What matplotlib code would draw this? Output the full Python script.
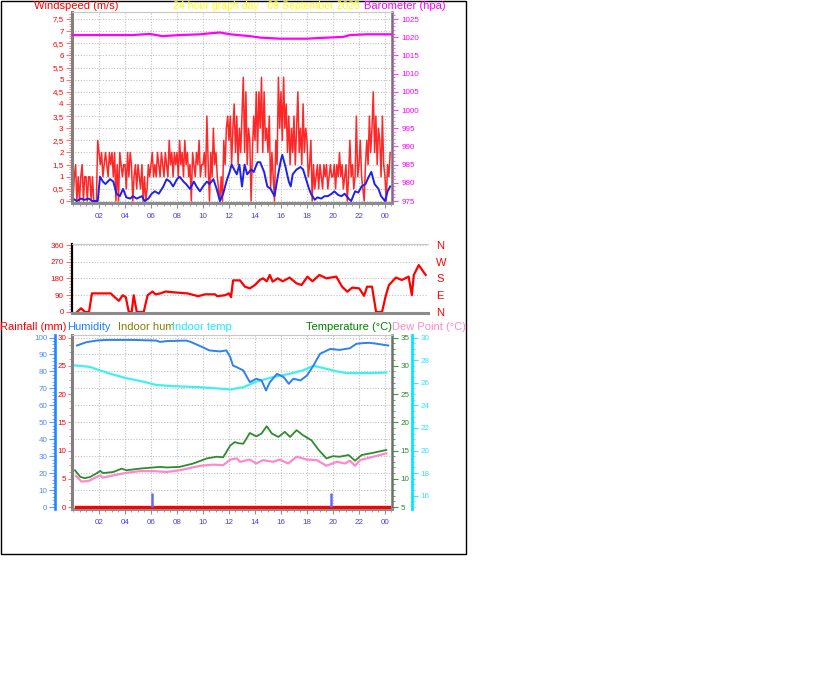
import matplotlib
matplotlib.use('Agg')
import matplotlib.pyplot as plt
from matplotlib.patches import Rectangle
from matplotlib.ticker import MultipleLocator, FuncFormatter
import numpy as np

plt.rcParams['font.family'] = ['Liberation Sans', 'DejaVu Sans']

W, H = 816, 683

###########################################
# Data
###########################################
# wind gusts (m/s), one reading every 6 minutes from 00:00
gust_step = 0.1
gust = [
    0, 1, 1.5, 0, 1, 0, 1, 1.5, 0, 1,
    1, 0, 1, 1, 0, 1, 0, 0, 0, 2.5,
    2, 1.5, 2, 1, 1.5, 2, 1.5, 1, 2, 1.5,
    2, 1, 2, 0, 1.5, 0, 2, 1.5, 1, 1.5,
    1.5, 0.5, 2, 1, 2, 1.5, 0, 1, 1.5, 0.5,
    1.5, 1, 0.5, 1.5, 0, 1, 0, 0.5, 1.5, 1,
    1.5, 2, 1, 1.5, 1, 2, 1.5, 1, 2, 1.5,
    1, 2, 1.5, 1, 2.5, 1.5, 2, 1, 2, 1.5,
    2, 1, 2.5, 1.5, 2, 1, 2.5, 1.5, 2, 1,
    1.5, 0, 2, 1.5, 1, 2, 1.5, 2.5, 1, 1.5,
    1.5, 2, 1, 3.5, 1.5, 0, 2, 1, 3, 1.5,
    2, 1, 0.5, 0, 1, 0, 2.5, 1.5, 3, 3.5,
    2.5, 3.5, 1.5, 3, 4, 2, 3.5, 1.5, 3, 2,
    3.5, 5.1, 2, 4.5, 1.5, 3, 2.5, 0, 2, 3.5,
    2.5, 4.5, 2, 4.5, 3, 5.1, 2, 4.5, 2.5, 3,
    2, 3.5, 0.5, 2, 1, 0, 2.5, 1.5, 5.1, 3,
    4.5, 2.5, 5.1, 3, 4, 2, 3.5, 1.5, 3, 2,
    3.5, 1.5, 3, 4.5, 2, 3, 1.5, 4, 2, 3,
    2.5, 1, 1.5, 2.5, 0, 1.5, 0.5, 1, 1.5, 0.5,
    1.5, 1, 0.5, 1.5, 1, 1.5, 0.5, 1, 1.5, 1,
    1, 1.5, 0.5, 1.5, 1, 2, 1, 1.5, 0.5, 1,
    1.5, 0, 1, 2.5, 1, 1.5, 0.5, 1, 3.5, 1,
    1.5, 2.5, 1, 0.5, 0, 1.5, 2.5, 1.5, 3.5, 2,
    3, 4.5, 2, 3.5, 1.5, 3, 2.5, 1, 3.5, 1.5,
    1, 0, 1.5, 1, 2,
]
gust_hours = np.arange(len(gust)) * gust_step

# average wind speed (m/s)
avg_hours = [0.0, 0.3, 0.6, 0.9, 1.2, 1.5, 1.9, 2.08, 2.3, 2.5, 2.85, 3.1, 3.35, 3.6, 3.85,
             4.1, 4.4, 4.6, 4.9, 5.3, 5.5, 5.8, 6.05, 6.3, 6.6, 6.95, 7.2, 7.46, 7.7,
             8.0, 8.2, 8.5, 8.7, 9.0, 9.3, 9.5, 9.77, 10.0, 10.3, 10.5, 10.8, 11.05, 11.3, 11.55, 11.8,
             12.05, 12.2, 12.4, 12.6, 12.8, 13.0, 13.2, 13.4, 13.7, 13.9, 14.2, 14.4, 14.7, 14.95,
             15.2, 15.5, 15.75, 16.0, 16.1, 16.35, 16.6, 16.75, 16.9, 17.2, 17.5, 17.7,
             18.1, 18.3, 18.6, 18.8, 19.1, 19.35, 19.6, 19.9, 20.1, 20.4, 20.65, 20.9, 21.2, 21.4,
             21.7, 21.95, 22.2, 22.5, 22.75, 22.95, 23.2, 23.5, 23.7, 24.0, 24.2, 24.4]
avg_speed = [0.1, 0.0, 0.1, 0.05, 0.1, 0.0, 0.0, 1.0, 0.8, 0.7, 0.9, 0.8, 0.3, 0.2, 0.5,
             0.15, 0.1, 0.2, 0.1, 0.2, 0.0, 0.1, 0.3, 0.4, 0.3, 0.6, 0.9, 0.8, 0.6,
             0.9, 1.0, 0.8, 0.7, 0.5, 0.8, 0.6, 0.4, 0.6, 0.8, 0.7, 0.9, 0.5, 0.0, 0.3, 0.8,
             1.2, 1.5, 1.3, 1.1, 1.5, 0.6, 1.5, 1.1, 1.3, 1.2, 1.6, 1.6, 1.2, 0.6,
             0.5, 0.2, 1.0, 1.7, 1.9, 1.4, 0.8, 0.6, 1.1, 1.3, 1.4, 1.3,
             0.6, 0.3, 0.05, 0.15, 0.1, 0.2, 0.2, 0.3, 0.4, 0.25, 0.2, 0.3, 0.1, 0.0,
             0.4, 0.35, 0.6, 0.7, 1.0, 1.2, 0.7, 0.5, 0.2, 0.0, 0.4, 0.6]

# barometer (hpa)
baro_hours = [0.0, 2.1, 4.6, 5.9, 6.9, 8.2, 9.8, 10.3, 11.3, 12.1, 13.6, 14.4, 15.9, 18.0,
              19.0, 20.8, 21.3, 22.6, 24.45]
baro_hpa = [1020.6, 1020.6, 1020.6, 1020.9, 1020.3, 1020.6, 1020.8, 1021.0, 1021.3, 1020.8,
            1020.3, 1019.9, 1019.6, 1019.6, 1019.8, 1020.1, 1020.6, 1020.8, 1020.8]

# wind direction (degrees)
dir_hours = [0.27, 0.55, 0.82, 1.1, 1.3, 2.6, 2.8, 3.16, 3.43, 3.64, 3.85, 4.05, 4.19, 4.4, 4.88,
             5.15, 5.49, 5.7, 6.04, 6.39, 7.07, 7.9, 8.65, 9.13, 9.82, 9.96, 10.5, 10.78, 10.92,
             11.06, 11.54, 11.88, 12.22, 12.57, 12.91, 13.12, 13.39, 13.6, 13.8, 14.15, 14.49,
             14.97, 15.45, 15.8, 16.2, 16.55, 17.03, 17.51, 18.2, 18.6, 18.96, 19.3, 19.78,
             20.12, 20.33, 20.67, 20.95, 21.36, 21.63, 21.84, 22.32, 22.73, 23.2, 23.42, 23.56,
             23.9, 24.38]
dir_deg = [0, 20, 0, 0, 100, 100, 85, 60, 90, 80, 0, 0, 90, 0, 0,
           90, 110, 95, 100, 110, 105, 100, 85, 95, 95, 85, 90, 100, 80,
           170, 170, 136, 127, 145, 172, 181, 165, 199, 163, 181, 165,
           185, 154, 145, 190, 165, 199, 181, 190, 136, 109, 131, 127,
           87, 136, 136, 0, 0, 91, 145, 185, 172, 190, 91, 199,
           252, 199]

# outdoor humidity (%)
hum_hours = [0.3, 1.05, 1.8, 2.6, 4.6, 6.4, 6.7, 7.2, 8.7, 9.1, 9.8, 10.5, 11.3, 11.8, 12.1,
             12.3, 12.6, 13.1, 13.6, 14.1, 14.5, 14.85, 15.15, 15.7, 16.2, 16.6, 16.95, 17.5,
             18.0, 18.5, 19.0, 19.8, 20.5, 21.3, 21.8, 22.3, 22.8, 23.4, 23.9, 24.25]
hum_pct = [95.3, 97.3, 98.2, 98.6, 98.6, 98.2, 97.4, 97.9, 98.2, 97.3, 94.9, 92.4, 91.8, 92.4, 88.4,
           83.5, 82.5, 80.6, 73.7, 75.7, 74.7, 68.8, 73.7, 78.6, 76.7, 72.7, 75.7, 74.7,
           77.6, 83.5, 90.4, 93.3, 92.7, 93.7, 96.3, 96.7, 96.9, 96.3, 95.7, 95.3]

# indoor temperature (C)
itemp_hours = [0.15, 1.3, 1.8, 2.85, 4.1, 5.4, 6.4, 7.7, 9.8, 11.05, 12.1, 12.8, 13.1, 14.1,
               15.4, 16.7, 17.7, 18.5, 19.25, 20.3, 21.05, 22.8, 24.1]
itemp_c = [27.53, 27.4, 27.2, 26.8, 26.4, 26.1, 25.8, 25.7, 25.6, 25.5, 25.4, 25.55, 25.6, 26.1,
           26.5, 26.8, 27.1, 27.5, 27.3, 27.0, 26.85, 26.85, 26.9]

# outdoor temperature (C)
temp_hours = [0.15, 0.55, 0.9, 1.3, 1.7, 2.1, 2.3, 3.1, 3.75, 4.1, 5.15, 6.7, 7.2, 8.2, 9.25,
              10.3, 11.05, 11.55, 12.1, 12.45, 12.7, 13.1, 13.6, 14.1, 14.5, 14.9, 15.3, 15.8,
              16.3, 16.7, 17.2, 17.7, 18.35, 18.9, 19.5, 20.0, 20.5, 21.2, 21.7, 22.2, 23.1, 24.1]
temp_c = [11.5, 10.35, 10.1, 10.3, 10.8, 11.4, 11.0, 11.2, 11.8, 11.5, 11.8, 12.1, 12.0, 12.1, 12.7,
          13.6, 13.9, 13.8, 15.9, 16.5, 16.3, 16.2, 18.1, 17.5, 18.0, 19.3, 18.0, 17.4,
          18.3, 17.4, 18.6, 17.7, 16.8, 15.1, 13.6, 14.0, 13.9, 14.2, 13.2, 14.2, 14.6, 15.1]

# dew point (C)
dew_hours = [0.23, 0.65, 1.2, 1.7, 2.1, 2.3, 3.1, 4.1, 5.15, 6.2, 7.2, 8.2, 9.8, 10.8, 11.55,
             12.1, 12.6, 12.85, 13.6, 14.1, 14.6, 15.4, 15.9, 16.55, 17.2, 17.98, 18.75, 19.5,
             20.3, 20.92, 21.3, 21.7, 22.08, 23.1, 24.1]
dew_c = [10.5, 9.5, 9.6, 10.2, 10.6, 10.2, 10.6, 11.05, 11.35, 11.35, 11.2, 11.5, 12.3, 12.5, 12.4,
         13.4, 13.6, 13.0, 13.4, 12.7, 13.3, 13.0, 13.4, 12.7, 13.9, 13.4, 13.3, 12.3,
         13.0, 12.7, 13.2, 12.3, 13.3, 13.9, 14.5]

# rainfall (mm)
rain_hours = [0.2, 24.3]
rain_mm = [0, 0]
rain_mark_hours = [6.08, 19.85]
rain_mark_mm = [2.5, 2.5]

hour_ticks = list(range(2, 25, 2))
hour_labels = ['%02d' % (h % 24) for h in hour_ticks]

###########################################
# Figure / helpers
###########################################
fig = plt.figure(figsize=(W / 100, H / 100), dpi=100)
fig.patch.set_facecolor('white')
fig.add_artist(Rectangle((0.5 / W, 1 - 554 / H), 465 / W, 553.5 / H, transform=fig.transFigure,
                         fill=False, ec='black', lw=1))


def px_axes(left, top, right, bottom):
    return fig.add_axes([left / W, 1 - bottom / H, (right - left) / W, (bottom - top) / H])


def comma(v, pos):
    return ('%g' % v).replace('.', ',')


XLIM = (-0.077, 24.54)
GRID = dict(color='#c0c0c0', lw=0.8, ls=(0, (1, 1.5)))
TS = 5.8


def frame(ax, left_c='#808080', left_w=2.2, right_c='#707070', right_w=1.8, right=True):
    ax.spines['top'].set_color('#c8c8c8')
    ax.spines['top'].set_linewidth(0.8)
    ax.spines['bottom'].set_color('#8c8c8c')
    ax.spines['bottom'].set_linewidth(2.2)
    ax.spines['left'].set_color(left_c)
    ax.spines['left'].set_linewidth(left_w)
    ax.spines['right'].set_visible(right)
    ax.spines['right'].set_color(right_c)
    ax.spines['right'].set_linewidth(right_w)


def hours_axis(ax, labels=True):
    ax.set_xlim(*XLIM)
    ax.set_xticks(hour_ticks)
    ax.xaxis.set_minor_locator(MultipleLocator(0.5))
    if labels:
        ax.set_xticklabels(hour_labels, color='#4040ff', fontsize=TS)
    else:
        ax.set_xticklabels([])
    ax.tick_params(axis='x', which='both', color='#909090', direction='out', pad=4)
    ax.tick_params(axis='x', which='major', length=3.5)
    ax.tick_params(axis='x', which='minor', length=2)


###########################################
# Panel 1: wind speed + barometer
###########################################
ax1 = px_axes(72, 12, 392, 203)
frame(ax1)
hours_axis(ax1)
ax1.set_ylim(-0.082, 7.79)
ax1.yaxis.set_major_locator(MultipleLocator(0.5))
ax1.yaxis.set_minor_locator(MultipleLocator(0.1))
ax1.yaxis.set_major_formatter(FuncFormatter(comma))
ax1.tick_params(axis='y', which='both', colors='#ff7070', labelcolor='#ff0000', labelsize=TS, pad=2)
ax1.tick_params(axis='y', which='major', length=4)
ax1.tick_params(axis='y', which='minor', length=2.5)
ax1.grid(True, which='major', **GRID)
ax1.set_axisbelow(True)
ax1.plot(gust_hours, gust, color='#ff1010', lw=1.1, alpha=0.9)
ax1.plot(avg_hours, avg_speed, color='#2020ee', lw=1.4)

ax1b = ax1.twinx()
ax1b.set_ylim(975 - 0.082 * 50 / 7.5, 975 + 7.79 * 50 / 7.5)
for s in ['top', 'bottom', 'left', 'right']:
    ax1b.spines[s].set_visible(False)
ax1b.yaxis.set_major_locator(MultipleLocator(5))
ax1b.yaxis.set_minor_locator(MultipleLocator(1))
ax1b.tick_params(axis='y', which='both', colors='#ff40ff', labelcolor='#ff00ff', labelsize=TS, pad=3)
ax1b.tick_params(axis='y', which='major', length=4)
ax1b.tick_params(axis='y', which='minor', length=2)
ax1b.plot(baro_hours, baro_hpa, color='#ff00ff', lw=1.6)

###########################################
# Panel 2: wind direction
###########################################
ax2 = px_axes(72, 244, 428, 313)
frame(ax2, left_c='black', left_w=1.6, right=False)
ax2.set_xlim(*XLIM)
ax2.set_xticks([])
ax2.set_ylim(-5.4, 365.4)
ax2.set_yticks([0, 90, 180, 270, 360])
ax2.yaxis.set_minor_locator(MultipleLocator(15))
ax2.tick_params(axis='y', which='both', colors='#ff7070', labelcolor='#ff0000', labelsize=TS, pad=2)
ax2.tick_params(axis='y', which='major', length=4)
ax2.tick_params(axis='y', which='minor', length=2.5)
ax2.grid(True, axis='y', **GRID)
ax2.set_axisbelow(True)
ax2.plot(dir_hours, dir_deg, color='#ff0000', lw=1.6)

ax2r = ax2.twinx()
ax2r.set_ylim(ax2.get_ylim())
for s in ['top', 'bottom', 'left', 'right']:
    ax2r.spines[s].set_visible(False)
ax2r.set_yticks([0, 90, 180, 270, 360])
ax2r.set_yticklabels(['N', 'E', 'S', 'W', 'N'])
ax2r.tick_params(axis='y', length=0, labelcolor='#ff0000', labelsize=8, pad=6)

###########################################
# Panel 3: rain, humidity, temperatures
###########################################
LO, HI = -1.18, 101.5


def lims(v0, v1):
    return (v0 + (v1 - v0) * LO / 100, v0 + (v1 - v0) * HI / 100)


ax3 = px_axes(72, 335, 392, 509)
frame(ax3)
hours_axis(ax3)
ax3.set_ylim(*lims(0, 30))
ax3.yaxis.set_major_locator(MultipleLocator(5))
ax3.yaxis.set_minor_locator(MultipleLocator(1.25))
ax3.tick_params(axis='y', which='both', colors='#ff7070', labelcolor='#ff0000', labelsize=TS, pad=1)
ax3.tick_params(axis='y', which='major', length=3)
ax3.tick_params(axis='y', which='minor', length=2)
for v in np.arange(3, 31, 3):
    ax3.axhline(v, zorder=0, **GRID)
for h in hour_ticks:
    ax3.axvline(h, zorder=0, **GRID)
ax3.plot(rain_hours, rain_mm, color='#ff0000', lw=2.4, zorder=3)
ax3.vlines(rain_mark_hours, 0, rain_mark_mm, color='#6868ff', lw=1.8, zorder=3)

# indoor temperature axis (cyan, far right)
ax3c = ax3.twinx()
ax3c.set_ylim(*lims(15, 30))
for s in ['top', 'bottom', 'left']:
    ax3c.spines[s].set_visible(False)
ax3c.spines['right'].set_position(('axes', 1 + 20 / 320))
ax3c.spines['right'].set_color('#00e8ff')
ax3c.spines['right'].set_linewidth(2)
ax3c.yaxis.set_major_locator(MultipleLocator(2))
ax3c.yaxis.set_minor_locator(MultipleLocator(0.5))
ax3c.tick_params(axis='y', which='both', colors='#40e8ff', labelcolor='#30e0ff', labelsize=TS, pad=2)
ax3c.tick_params(axis='y', which='major', length=4)
ax3c.tick_params(axis='y', which='minor', length=2)
ax3c.set_yticks([16, 18, 20, 22, 24, 26, 28, 30])
ax3c.plot(itemp_hours, itemp_c, color='#40f0f0', lw=1.6)

# outdoor temperature axis (green, right)
ax3t = ax3.twinx()
ax3t.set_ylim(*lims(5, 35))
for s in ['top', 'bottom', 'left', 'right']:
    ax3t.spines[s].set_visible(False)
ax3t.yaxis.set_major_locator(MultipleLocator(5))
ax3t.yaxis.set_minor_locator(MultipleLocator(1))
ax3t.tick_params(axis='y', which='both', colors='#3a9a3a', labelcolor='#2a8a2a', labelsize=TS, pad=2)
ax3t.tick_params(axis='y', which='major', length=4)
ax3t.tick_params(axis='y', which='minor', length=2)
ax3t.plot(dew_hours, dew_c, color='#ff88cc', lw=1.6)
ax3t.plot(temp_hours, temp_c, color='#2e8b2e', lw=1.3)

# humidity axis (blue, far left)
ax3h = ax3.twinx()
ax3h.set_ylim(*lims(0, 100))
for s in ['top', 'bottom', 'right']:
    ax3h.spines[s].set_visible(False)
ax3h.spines['left'].set_visible(True)
ax3h.spines['left'].set_position(('axes', -17 / 320))
ax3h.spines['left'].set_color('#1e88ff')
ax3h.spines['left'].set_linewidth(1.9)
ax3h.yaxis.set_ticks_position('left')
ax3h.yaxis.set_major_locator(MultipleLocator(10))
ax3h.yaxis.set_minor_locator(MultipleLocator(2))
ax3h.tick_params(axis='y', which='both', colors='#5aa0ff', labelcolor='#4a8cff', labelsize=TS, pad=1.5)
ax3h.tick_params(axis='y', which='major', length=4)
ax3h.tick_params(axis='y', which='minor', length=2.5)
ax3h.plot(hum_hours, hum_pct, color='#2f80f0', lw=1.4)

###########################################
# Header texts
###########################################
def header(x, y, s, color, ha='left', size=8):
    fig.text(x / W, 1 - y / H, s, color=color, fontsize=size, ha=ha, va='center')


header(34, 6, 'Windspeed (m/s)', '#ff0000')
header(266, 6, '24 hour graph day : 09 September 2025', '#ffff00', ha='center', size=7.6)
header(446, 6, 'Barometer (hpa)', '#ff00ff', ha='right')

header(0, 327, 'Rainfall (mm)', '#ff0000')
header(67, 327, 'Humidity', '#1e80ff')
header(118, 327, 'Indoor hum', '#808000')
header(172, 327, 'Indoor temp', '#20e8ff')
header(392, 327, 'Temperature (°C)', '#008000', ha='right')
header(392, 327, 'Dew Point (°C)', '#ff88cc')

fig.savefig('out.png', dpi=100, facecolor='white')
